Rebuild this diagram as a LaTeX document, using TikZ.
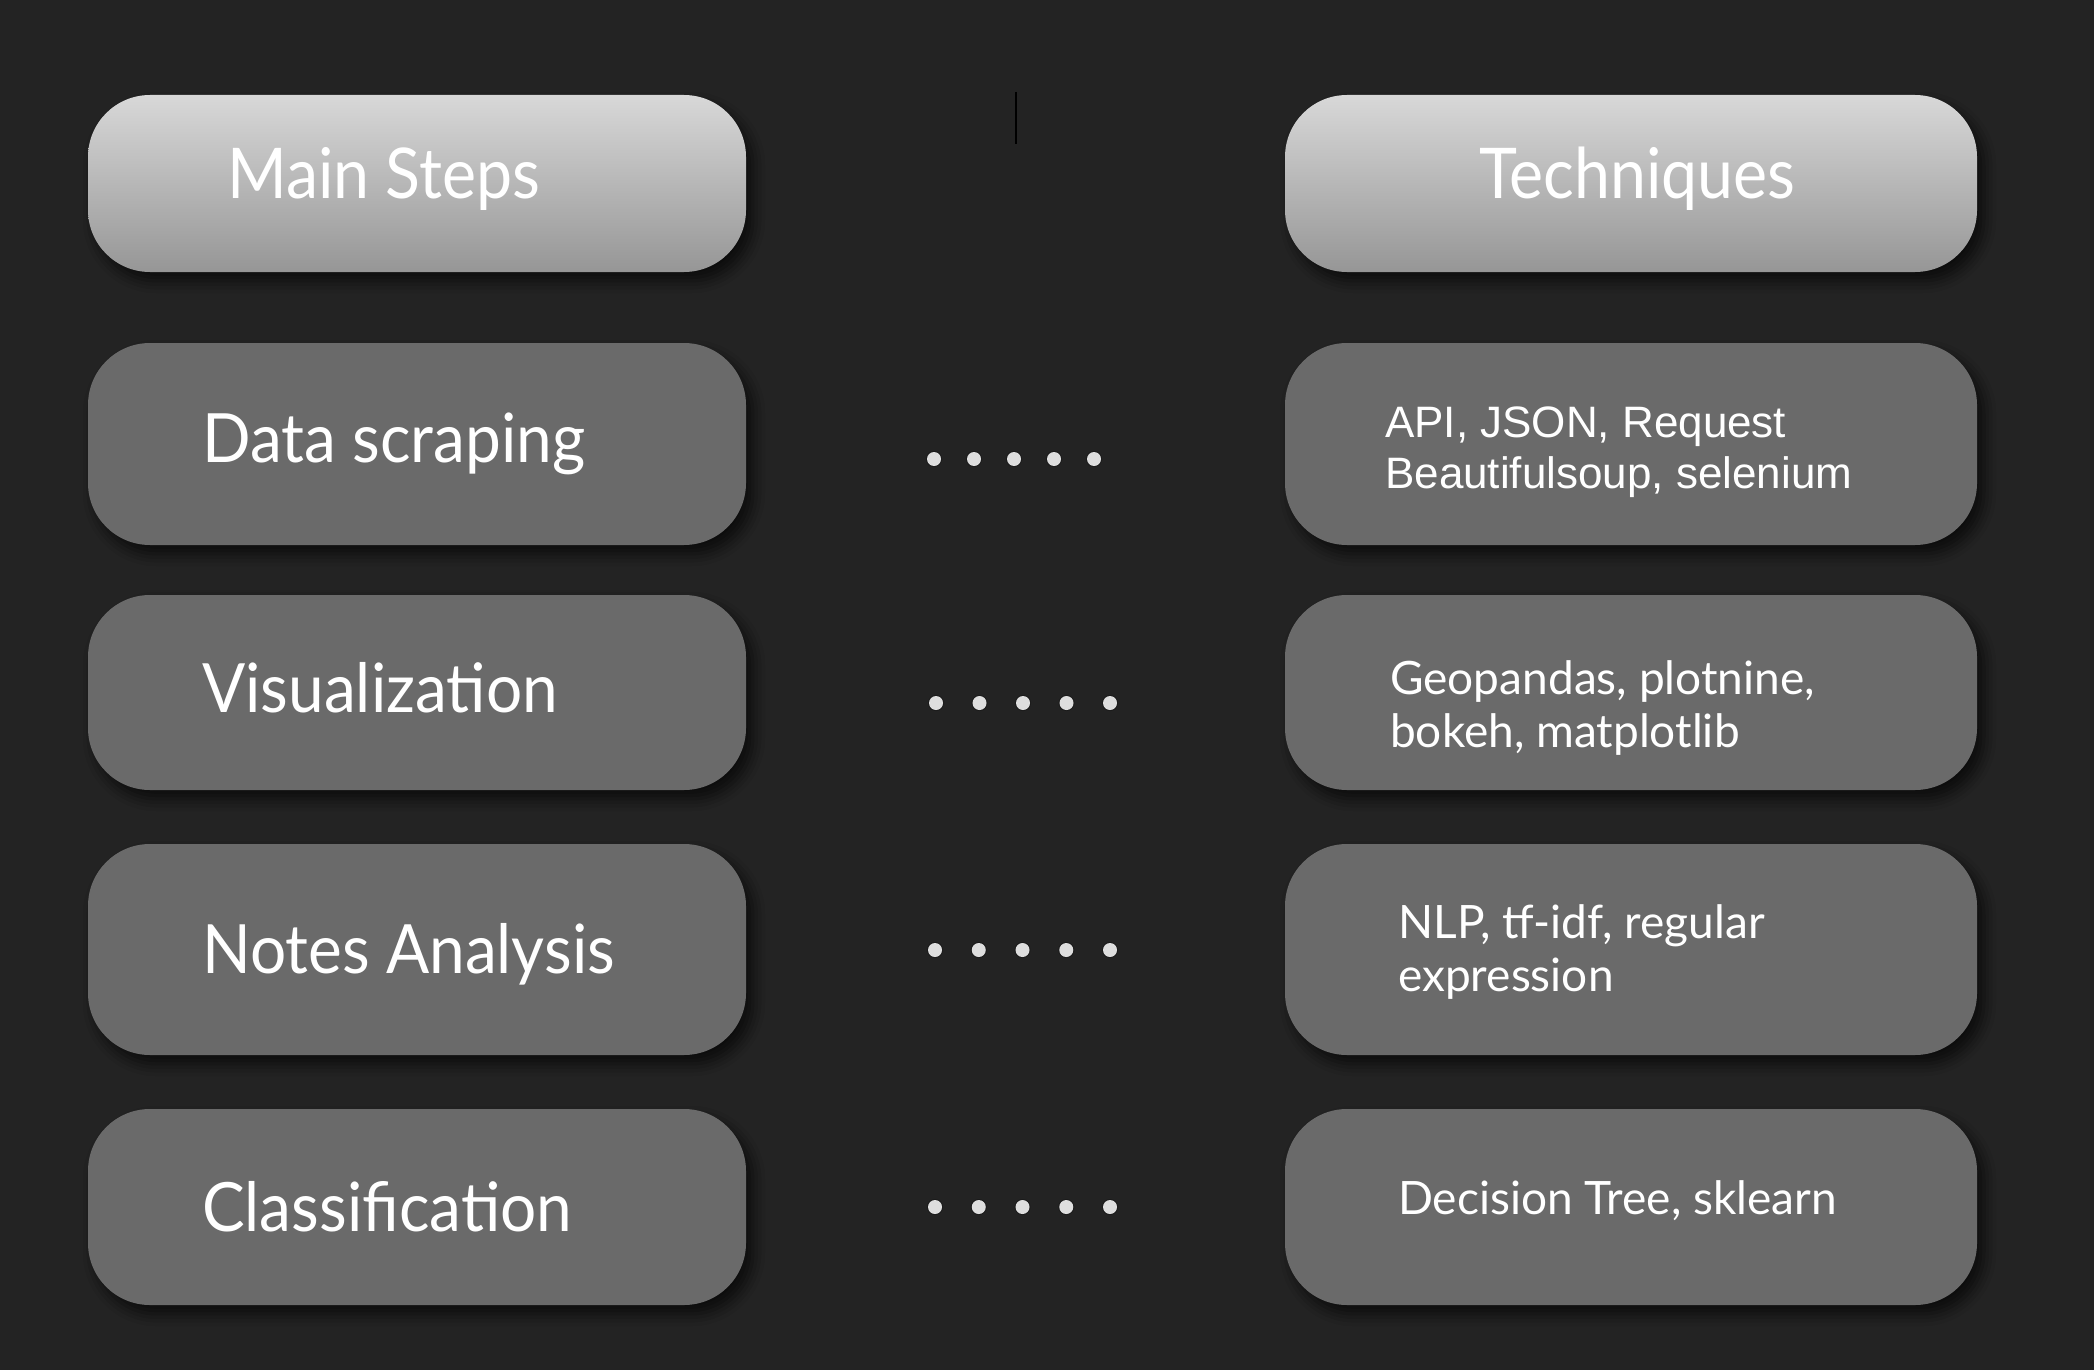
\documentclass[tikz,border=0pt]{standalone}
\usepackage{fontspec}
\usetikzlibrary{shadows.blur}
\setmainfont{Lato}
\newfontfamily\stepfont[FakeStretch=0.92]{Lato}
\newfontfamily\rowfont[FakeStretch=0.94]{Lato}
\newfontfamily\techfont{Liberation Sans}
\definecolor{bgc}{RGB}{35,35,35}
\definecolor{boxgray}{RGB}{106,106,106}
\definecolor{htop}{RGB}{216,216,216}
\definecolor{hbot}{RGB}{150,150,150}
\definecolor{dotc}{RGB}{222,222,222}
\begin{document}
\begin{tikzpicture}[x=1pt,y=-1pt,
  basebox/.style={rounded corners=62pt, inner sep=0pt, draw=none,
    blur shadow={shadow xshift=7pt, shadow yshift=-9pt, shadow blur radius=12pt, shadow opacity=65}},
  headbox/.style={basebox, top color=htop, bottom color=hbot},
  rowbox/.style={basebox, fill=boxgray},
  lbox/.style={minimum width=658pt},
  rbox/.style={minimum width=692pt},
  headtxt/.style={anchor=base west, inner sep=0pt, text=white, font=\stepfont\fontsize{70}{80}\selectfont},
  steptxt/.style={anchor=base west, inner sep=0pt, text=white, font=\rowfont\fontsize{68}{80}\selectfont},
  techtxt/.style={anchor=base west, inner sep=0pt, text=white, align=left, font=\rmfamily\fontsize{46}{52.5}\selectfont},
  apitxt/.style={anchor=base west, inner sep=0pt, text=white, align=left, font=\techfont\fontsize{44}{51}\selectfont},
  dotline/.style={dotc, line width=14pt, line cap=round},
  dotshadow/.style={black, opacity=0.25, line width=16pt, line cap=round}
]
% background
\fill[bgc] (0,0) rectangle (2094,1370);
\useasboundingbox (0,0) rectangle (2094,1370);

% header boxes
\node[headbox, lbox, minimum height=177pt] (hL) at (417,183.5) {};
\node[headbox, rbox, minimum height=177pt] (hR) at (1631,183.5) {};
\node[headtxt] (tMain) at (227,198) {Main Steps};
\node[headtxt] (tTech) at (1479,198) {Techniques};

% rows: left
\node[rowbox, lbox, minimum height=202pt] (s1) at (417,444) {};
\node[rowbox, lbox, minimum height=195pt] (s2) at (417,692.5) {};
\node[rowbox, lbox, minimum height=211pt] (s3) at (417,949.5) {};
\node[rowbox, lbox, minimum height=196pt] (s4) at (417,1207) {};
% rows: right
\node[rowbox, rbox, minimum height=202pt] (k1) at (1631,444) {};
\node[rowbox, rbox, minimum height=195pt] (k2) at (1631,692.5) {};
\node[rowbox, rbox, minimum height=211pt] (k3) at (1631,949.5) {};
\node[rowbox, rbox, minimum height=196pt] (k4) at (1631,1207) {};

% step texts
\node[steptxt] (ts1) at (202,462) {Data scraping};
\node[steptxt] (ts2) at (202,712) {Visualization};
\node[steptxt] (ts3) at (202,973) {Notes Analysis};
\node[steptxt] (ts4) at (202,1231) {Classification};

% technique texts (base anchor = last line's baseline)
\node[apitxt] (tk1) at (1385,488) {API, JSON, Request\\Beautifulsoup, selenium};
\node[techtxt] (tk2) at (1390,747) {Geopandas, plotnine,\\bokeh, matplotlib};
\node[techtxt] (tk3) at (1398,991) {NLP, tf-idf, regular\\expression};
\node[techtxt] (tk4) at (1398,1214) {Decision Tree, sklearn};

% dotted links
\coordinate (a1) at (934,459);   \coordinate (b1) at (1094.5,459);
\coordinate (a2) at (936,703);   \coordinate (b2) at (1110.5,703);
\coordinate (a3) at (935,950);   \coordinate (b3) at (1110.5,950);
\coordinate (a4) at (935,1207);  \coordinate (b4) at (1110.5,1207);
\begin{scope}[shift={(14,16)}]
\draw[dotshadow, dash pattern=on 0pt off 40pt] (a1) -- (b1);
\draw[dotshadow, dash pattern=on 0pt off 43.5pt] (a2) -- (b2);
\draw[dotshadow, dash pattern=on 0pt off 43.75pt] (a3) -- (b3);
\draw[dotshadow, dash pattern=on 0pt off 43.75pt] (a4) -- (b4);
\end{scope}
\draw[dotline, dash pattern=on 0pt off 40pt] (a1) -- (b1);
\draw[dotline, dash pattern=on 0pt off 43.5pt] (a2) -- (b2);
\draw[dotline, dash pattern=on 0pt off 43.75pt] (a3) -- (b3);
\draw[dotline, dash pattern=on 0pt off 43.75pt] (a4) -- (b4);

% small vertical mark
\coordinate (m1) at (1016,92);
\coordinate (m2) at (1016,144);
\draw[line width=2pt, black] (m1) -- (m2);
\end{tikzpicture}
\end{document}
